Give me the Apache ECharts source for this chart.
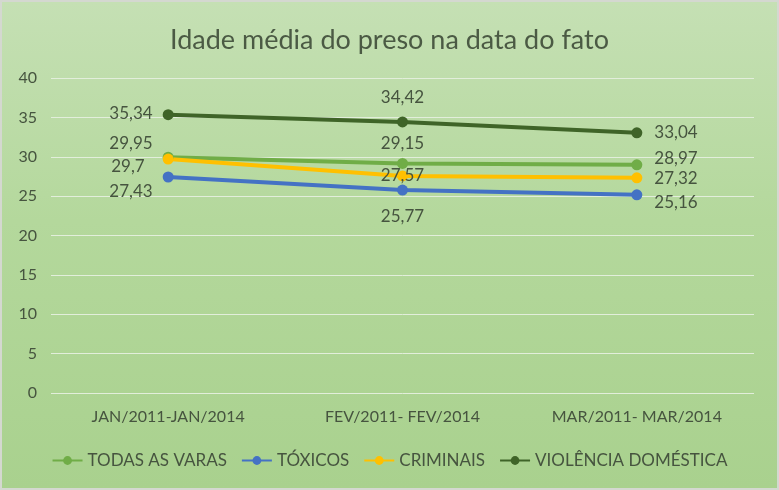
<!DOCTYPE html>
<html>
<head>
<meta charset="utf-8">
<script src="https://cdn.jsdelivr.net/npm/echarts@6/dist/echarts.min.js"></script>
<style>
  html, body { margin: 0; padding: 0; }
  #wrap {
    width: 775px; height: 486px;
    border: 2px solid #d4d8d0;
    background: linear-gradient(to bottom, #c5e0b4 0%, #b4d89c 45%, #a9d18e 100%);
  }
  #chart { width: 775px; height: 486px; }
</style>
</head>
<body>
<div id="wrap"><div id="chart"></div></div>
<script>
// categorias e valores
const periods = ['JAN/2011-JAN/2014', 'FEV/2011- FEV/2014', 'MAR/2011- MAR/2014']
const todasVaras = [29.95, 29.15, 28.97]
const toxicos = [27.43, 25.77, 25.16]
const criminais = [29.7, 27.57, 27.32]
const violencia = [35.34, 34.42, 33.04]

const textColor = '#46543f'
const fontFam = 'Lato, "Open Sans", sans-serif'

// posição dos rótulos em cada ponto
function pts(values, places) {
  return values.map((v, i) => ({
    value: v,
    label: places[i]
  }))
}

function makeSeries(name, color, values, places) {
  return {
    name: name,
    type: 'line',
    data: pts(values, places),
    symbol: 'circle',
    symbolSize: 11,
    lineStyle: { width: 4, color: color },
    itemStyle: { color: color },
    label: {
      show: true,
      color: textColor,
      fontSize: 17,
      fontFamily: fontFam,
      formatter: p => String(p.value).replace('.', ',')
    },
    z: 3
  }
}

const chart = echarts.init(document.getElementById('chart'))
chart.setOption({
  backgroundColor: 'transparent',
  title: {
    text: 'Idade média do preso na data do fato',
    left: 'center',
    top: 20,
    textStyle: { color: '#4b5a44', fontSize: 27, fontWeight: 'normal', fontFamily: fontFam }
  },
  grid: { left: 49, right: 23, top: 76, bottom: 95 },
  legend: {
    bottom: 14,
    itemWidth: 30,
    itemHeight: 11,
    itemGap: 14,
    textStyle: { color: textColor, fontSize: 17, fontFamily: fontFam },
    data: ['TODAS AS VARAS', 'TÓXICOS', 'CRIMINAIS', 'VIOLÊNCIA DOMÉSTICA']
  },
  xAxis: {
    type: 'category',
    data: periods,
    axisLine: { show: false },
    axisTick: { show: false },
    axisLabel: { color: textColor, fontSize: 16, fontFamily: fontFam, margin: 16 }
  },
  yAxis: {
    type: 'value',
    min: 0, max: 40, interval: 5,
    axisLabel: { color: textColor, fontSize: 16, fontFamily: fontFam, margin: 14 },
    splitLine: { lineStyle: { color: '#e2eedb', width: 1 } }
  },
  series: [
    makeSeries('TODAS AS VARAS', '#70ad47', todasVaras, [
      { position: 'left', distance: 10, offset: [0, -14] },
      { position: 'top', distance: 6 },
      { position: 'right', distance: 12, offset: [0, -6] }
    ]),
    makeSeries('TÓXICOS', '#4472c4', toxicos, [
      { position: 'left', distance: 10, offset: [0, 15] },
      { position: 'bottom', distance: 12 },
      { position: 'right', distance: 12, offset: [0, 8] }
    ]),
    makeSeries('CRIMINAIS', '#ffc000', criminais, [
      { position: 'left', distance: 18, offset: [0, 7] },
      { position: 'inside' },
      { position: 'right', distance: 12, offset: [0, 1] }
    ]),
    makeSeries('VIOLÊNCIA DOMÉSTICA', '#3f6428', violencia, [
      { position: 'left', distance: 10, offset: [0, -1] },
      { position: 'top', distance: 10 },
      { position: 'right', distance: 12 }
    ])
  ]
})
</script>
</body>
</html>
